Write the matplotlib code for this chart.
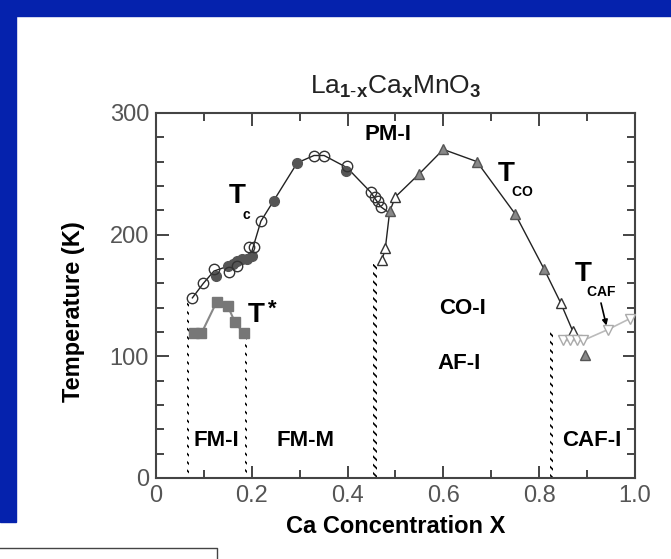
import numpy as np
import matplotlib
matplotlib.use("Agg")
import matplotlib.pyplot as plt
from matplotlib.patches import Rectangle
from matplotlib.lines import Line2D

plt.rcParams['font.family'] = ['Liberation Sans', 'DejaVu Sans']
plt.rcParams['mathtext.fontset'] = 'custom'
plt.rcParams['mathtext.rm'] = 'Liberation Sans'
plt.rcParams['mathtext.bf'] = 'Liberation Sans:bold'
plt.rcParams['hatch.linewidth'] = 1.2

# Tc, open circles
tc_open_x = [0.076, 0.099, 0.121, 0.152, 0.170, 0.194, 0.204, 0.219, 0.330, 0.351, 0.399, 0.448, 0.458, 0.463, 0.469]
tc_open_T = [148, 160, 172, 169, 174, 190, 190, 211, 265, 265, 256, 235, 231, 228, 223]
# Tc, filled circles
tc_fill_x = [0.125, 0.150, 0.160, 0.170, 0.180, 0.190, 0.200, 0.246, 0.295, 0.396]
tc_fill_T = [166, 174, 176, 178, 180, 180, 182, 228, 259, 252]
# Tc guide line
tc_line_x = [0.076, 0.099, 0.121, 0.150, 0.180, 0.200, 0.219, 0.246, 0.295, 0.330, 0.351, 0.399, 0.448, 0.469, 0.483]
tc_line_T = [148, 160, 170, 174, 180, 186, 211, 228, 259, 265, 265, 255, 235, 223, 219]

# Tco, open / filled up-triangles
tco_open_x = [0.472, 0.479, 0.500, 0.845, 0.870]
tco_open_T = [179, 189, 231, 144, 121]
tco_fill_x = [0.488, 0.550, 0.600, 0.670, 0.750, 0.810, 0.896]
tco_fill_T = [219, 250, 270, 260, 217, 172, 101]
tco_line_x = [0.472, 0.479, 0.488, 0.500, 0.550, 0.600, 0.670, 0.750, 0.810, 0.845, 0.870, 0.880]
tco_line_T = [179, 189, 219, 231, 250, 270, 260, 217, 172, 144, 121, 113]

# T_CAF, down-triangles
tcaf_x = [0.850, 0.865, 0.879, 0.892, 0.944, 0.990]
tcaf_T = [113, 113, 113, 113, 122, 131]

# T*, squares
tstar_x = [0.079, 0.095, 0.127, 0.150, 0.165, 0.183]
tstar_T = [119, 119, 145, 141, 128, 119]

# phase boundaries (x, top T)
bound_x = [0.067, 0.188, 0.457, 0.826]
bound_T = [146, 120, 176, 120]
bound_w = [0.004, 0.004, 0.007, 0.005]

phase_labels = ['PM-I', 'CO-I', 'AF-I', 'FM-I', 'FM-M', 'CAF-I']
phase_x = [0.485, 0.64, 0.633, 0.126, 0.312, 0.91]
phase_T = [282, 139, 94, 31, 31, 31]

fig = plt.figure(figsize=(6.71, 5.59), dpi=100)
fig.patch.set_facecolor('white')
blue = '#0522ad'
fig.add_artist(Rectangle((0, 0.9714), 1, 0.03, transform=fig.transFigure, color=blue, zorder=0))
fig.add_artist(Rectangle((0, 0.066), 0.0238, 0.94, transform=fig.transFigure, color=blue, zorder=0))
fig.add_artist(Line2D([0, 0.3234, 0.3234], [0.0197, 0.0197, 0], transform=fig.transFigure,
                      color='#444444', lw=1.0))

ax = fig.add_axes([0.2325, 0.145, 0.7136, 0.653])
ax.set_xlim(0, 1.0)
ax.set_ylim(0, 300)

gray = '#444444'
for b, t, w in zip(bound_x, bound_T, bound_w):
    ax.fill_betweenx([0, t], b - w / 2, b + w / 2, facecolor='none', edgecolor='black',
                     hatch='\\\\\\\\', linewidth=0, zorder=1)

ax.plot(tc_line_x, tc_line_T, color='#222222', lw=1.0, zorder=2)
ax.plot(tco_line_x, tco_line_T, color='#222222', lw=1.0, zorder=2)
ax.plot(tcaf_x, tcaf_T, color='#bbbbbb', lw=1.2, zorder=2)
ax.plot(tstar_x, tstar_T, color='#888888', lw=1.5, zorder=2)

ax.plot(tc_fill_x, tc_fill_T, 'o', ms=7, mfc='#555555', mec='#555555', zorder=3)
ax.plot(tc_open_x, tc_open_T, 'o', ms=7.5, mfc='none', mec='#333333', mew=1.0, zorder=4)
ax.plot(tco_fill_x, tco_fill_T, '^', ms=7.5, mfc='#888888', mec='#555555', mew=1.0, zorder=3)
ax.plot(tco_open_x, tco_open_T, '^', ms=7.5, mfc='white', mec='#333333', mew=1.0, zorder=4)
ax.plot(tcaf_x, tcaf_T, 'v', ms=7.5, mfc='white', mec='#aaaaaa', mew=1.0, zorder=4)
ax.plot(tstar_x, tstar_T, 's', ms=6.5, mfc='#777777', mec='#777777', zorder=3)

for s, x, t in zip(phase_labels, phase_x, phase_T):
    ax.text(x, t, s, ha='center', va='center', fontsize=16, fontweight='bold', color='black')

ax.text(0.17, 232, r'$\mathbf{T}$', fontsize=20, ha='center', va='center')
ax.text(0.19, 216, r'$\mathbf{c}$', fontsize=10, ha='center', va='center')
ax.text(0.732, 250, r'$\mathbf{T}$', fontsize=20, ha='center', va='center')
ax.text(0.765, 235, r'$\mathbf{CO}$', fontsize=10, ha='center', va='center')
ax.text(0.21, 134, r'$\mathbf{T}$', fontsize=20, ha='center', va='center')
ax.text(0.242, 139, '*', fontsize=16, fontweight='bold', ha='center', va='center')
ax.text(0.893, 168, r'$\mathbf{T}$', fontsize=20, ha='center', va='center')
ax.text(0.93, 153, r'$\mathbf{CAF}$', fontsize=10, ha='center', va='center')
ax.annotate('', xy=(0.942, 123), xytext=(0.928, 146),
            arrowprops=dict(arrowstyle='-|>', color='black', lw=1.2, mutation_scale=8))

ax.set_xticks([0, 0.2, 0.4, 0.6, 0.8, 1.0])
ax.set_xticklabels(['0', '0.2', '0.4', '0.6', '0.8', '1.0'])
ax.set_xticks(np.arange(0.1, 1.0, 0.2), minor=True)
ax.set_yticks([0, 100, 200, 300])
ax.set_yticks(np.arange(20, 300, 20), minor=True)
ax.tick_params(which='both', direction='in', top=True, right=True, color=gray, width=1.4,
               labelsize=17, labelcolor='#555555')
ax.tick_params(which='major', length=9, pad=5)
ax.tick_params(which='minor', length=6)
for sp in ax.spines.values():
    sp.set_color(gray)
    sp.set_linewidth(1.5)

ax.set_xlabel('Ca Concentration X', fontsize=17, fontweight='bold', labelpad=6)
ax.set_ylabel('Temperature (K)', fontsize=17, fontweight='bold')
ax.yaxis.set_label_coords(-0.148, 0.455)
ax.set_title(r'$\mathrm{La}_{\mathbf{1\text{-}x}}\mathrm{Ca}_{\mathbf{x}}\mathrm{MnO}_{\mathbf{3}}$',
             fontsize=19, color='#222222', pad=14)

fig.savefig('out.png', dpi=100, facecolor=fig.get_facecolor())
